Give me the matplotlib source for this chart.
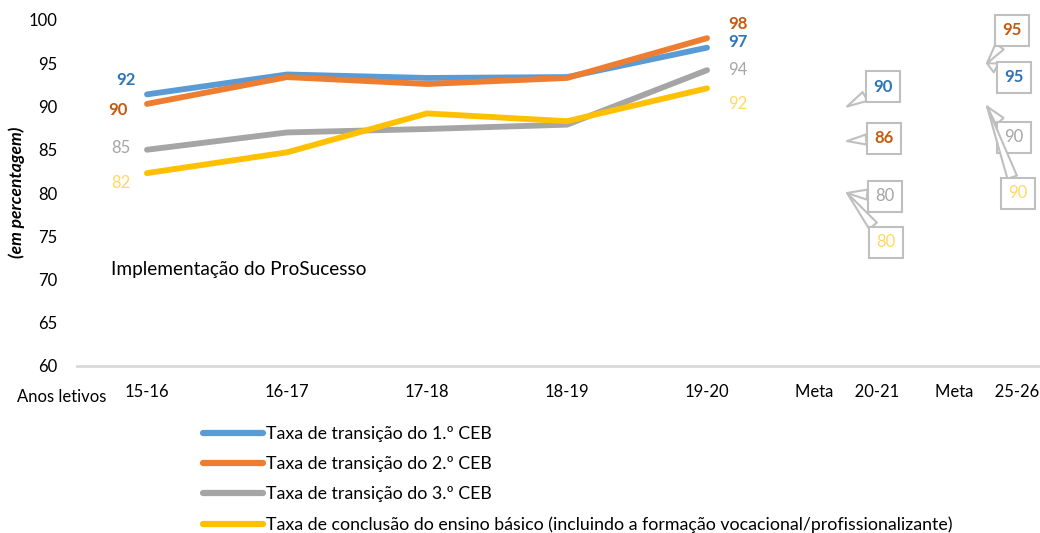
#!/usr/bin/env python
"""Taxas de transição / conclusão do ensino básico, com metas 20-21 e 25-26."""
import matplotlib

matplotlib.use("Agg")
import matplotlib.pyplot as plt

plt.rcParams["font.family"] = ["Lato", "DejaVu Sans"]

# categories (anos letivos) and tick labels
years = ["15-16", "16-17", "17-18", "18-19", "19-20"]
tick_labels = years + ["Meta     20-21", "Meta     25-26"]

# observed series
ceb1 = [91.4, 93.7, 93.3, 93.4, 96.8]
ceb2 = [90.3, 93.4, 92.6, 93.3, 97.9]
ceb3 = [85.0, 87.0, 87.4, 87.9, 94.2]
concl = [82.3, 84.7, 89.2, 88.3, 92.1]

# rounded labels shown at first / last year
first_labels = [92, 90, 85, 82]
last_labels = [97, 98, 94, 92]

# targets (same series order)
meta_2021 = [90, 86, 80, 80]
meta_2526 = [95, 95, 90, 90]

names = [
    "Taxa de transição do 1.º CEB",
    "Taxa de transição do 2.º CEB",
    "Taxa de transição do 3.º CEB",
    "Taxa de conclusão do ensino básico (incluindo a formação vocacional/profissionalizante)",
]
line_colors = ["#5B9BD5", "#ED7D31", "#A5A5A5", "#FFC000"]
text_colors = ["#2E75B6", "#C55A11", "#A5A5A5", "#FFD966"]
text_weights = ["bold", "bold", "normal", "normal"]

fig = plt.figure(figsize=(10.4, 5.33), dpi=100)
ax = fig.add_axes([77 / 1040, 1 - 366 / 533, 1 - 77 / 1040, 346 / 533])

x = list(range(len(years)))
series = [ceb1, ceb2, ceb3, concl]
for vals, col, name in zip(series, line_colors, names):
    ax.plot(x, vals, color=col, lw=4.2, solid_capstyle="round", label=name, zorder=3)

# value labels next to first and last points (offsets in pixels)
first_off = [(-21, 14), (-29, -6), (-26, 2), (-26, -10)]
last_off = [(31, 6), (31, 14), (31, 0), (31, -16)]
for i, vals in enumerate(series):
    ax.annotate(str(first_labels[i]), (0, vals[0]), xytext=first_off[i],
                textcoords="offset pixels", ha="center", va="center",
                fontsize=12, color=text_colors[i], fontweight=text_weights[i])
    ax.annotate(str(last_labels[i]), (4, vals[-1]), xytext=last_off[i],
                textcoords="offset pixels", ha="center", va="center",
                fontsize=12, color=text_colors[i], fontweight=text_weights[i])

# callouts for targets
box_kw = dict(boxstyle="square,pad=0.45", fc="white", ec="#BFBFBF", lw=1.5)
arrow_kw = dict(arrowstyle="wedge,tail_width=0.6,shrink_factor=0.5",
                fc="white", ec="#BFBFBF", lw=1.5, shrinkA=0, shrinkB=0)
off_2021 = [(36, 20), (37, 3), (38, -3), (39, -49)]
off_2526 = [(27, -14), (25, 33), (27, -31), (31, -87)]
for cat, metas, offs in [(5, meta_2021, off_2021), (6, meta_2526, off_2526)]:
    for i, v in enumerate(metas):
        ax.annotate(str(v), (cat, v), xytext=offs[i], textcoords="offset pixels",
                    ha="center", va="center", fontsize=12, color=text_colors[i],
                    fontweight=text_weights[i], bbox=box_kw, arrowprops=arrow_kw,
                    zorder=4 + i)

ax.text(-0.26, 71.2, "Implementação do ProSucesso", fontsize=13.7, ha="left", va="center")

ax.set_xlim(-0.5, (1040 - 147) / 140)
ax.set_ylim(60, 100)
ax.set_yticks(range(60, 101, 5))
ax.set_xticks(range(len(tick_labels)))
ax.set_xticklabels(tick_labels)
ax.tick_params(axis="both", length=0, labelsize=12, colors="#000000")
ax.tick_params(axis="x", pad=13)
ax.tick_params(axis="y", pad=14)
for side in ["top", "right", "left"]:
    ax.spines[side].set_visible(False)
ax.spines["bottom"].set_color("#D9D9D9")
ax.spines["bottom"].set_linewidth(2)

fig.text(17 / 1040, 1 - 192 / 533, "(em percentagem)", rotation=90, fontsize=12.5,
         fontstyle="italic", fontweight="bold", ha="center", va="center")
fig.text(17 / 1040, 1 - 397 / 533, "Anos letivos", fontsize=12, ha="left", va="center")

fig.legend(loc="upper left", bbox_to_anchor=(203 / 1040, 1 - 426 / 533), frameon=False,
           fontsize=12.8, handlelength=3.35, handletextpad=0.2, labelspacing=0.8,
           borderpad=0, borderaxespad=0)
for line in fig.legends[0].get_lines():
    line.set_linewidth(4.5)

fig.savefig("out.png", dpi=100, facecolor="white")
